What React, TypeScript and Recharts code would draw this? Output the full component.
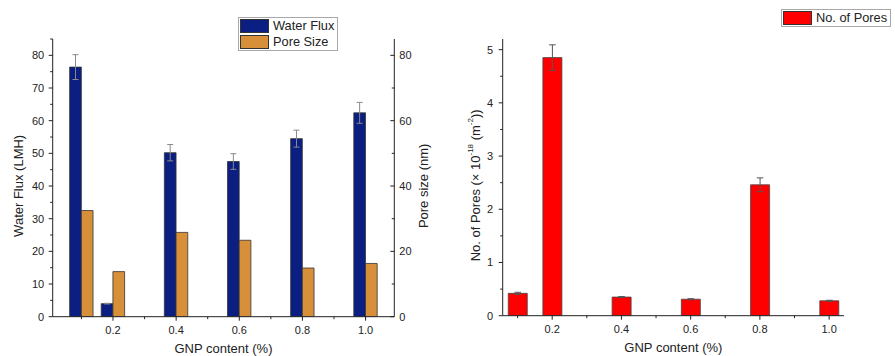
import React from 'react';
import { BarChart, Bar, XAxis, YAxis, ErrorBar, Legend } from 'recharts';

// ---- data ----
const gnpContent = [0.1, 0.2, 0.4, 0.6, 0.8, 1.0];
const waterFlux = [76.4, 4.0, 50.2, 47.5, 54.5, 62.4];
const waterFluxError = [3.8, 0.1, 2.5, 2.4, 2.6, 3.2];
const poreSize = [32.5, 13.8, 25.8, 23.4, 14.9, 16.3];
const numberOfPores = [0.42, 4.85, 0.35, 0.31, 2.46, 0.28];
const numberOfPoresError = [0.02, 0.24, 0.01, 0.01, 0.13, 0.01];

// ---- ticks ----
const xTicks = [0.1, 0.2, 0.3, 0.4, 0.5, 0.6, 0.7, 0.8, 0.9, 1.0];
const xTickLabels = ['0.2', '0.4', '0.6', '0.8', '1.0'];
const fluxTicks = [0, 5, 10, 15, 20, 25, 30, 35, 40, 45, 50, 55, 60, 65, 70, 75, 80, 85];
const fluxTickLabels = ['0', '10', '20', '30', '40', '50', '60', '70', '80'];
const poreSizeTicks = [0, 10, 20, 30, 40, 50, 60, 70, 80];
const poreSizeTickLabels = ['0', '20', '40', '60', '80'];
const poresTicks = [0, 0.5, 1, 1.5, 2, 2.5, 3, 3.5, 4, 4.5, 5];
const poresTickLabels = ['0', '1', '2', '3', '4', '5'];

const leftData = gnpContent.map((g, i) => ({
  gnp: g,
  flux: waterFlux[i],
  fluxErr: waterFluxError[i],
  pore: poreSize[i],
}));
const rightData = gnpContent.map((g, i) => ({
  gnp: g,
  pores: numberOfPores[i],
  poresErr: numberOfPoresError[i],
}));

const FONT = '"Liberation Sans", Arial, sans-serif';
const INK = '#222';
const NAVY = '#0b1f82';
const ORANGE = '#d88f3a';
const RED = '#ff0000';

const fmtX = (v: number) => v.toFixed(1);
const fmtInt = (v: number) => String(v);

const makeTick = (orientation: string, labels: string[], fmt: (v: number) => string, gap: number) =>
  (props: any) => {
    const { x, y, payload } = props;
    const label = fmt(payload.value);
    const major = labels.includes(label);
    const len = major ? 4 : 2.5;
    if (orientation === 'bottom') {
      return (
        <g>
          <line x1={x} x2={x} y1={y} y2={y + len} stroke={INK} strokeWidth={1} />
          {major && (
            <text x={x} y={y + 17.5} textAnchor="middle" fontSize={11} fontFamily={FONT} fill={INK}>
              {label}
            </text>
          )}
        </g>
      );
    }
    if (orientation === 'left') {
      return (
        <g>
          <line x1={x - len} x2={x} y1={y} y2={y} stroke={INK} strokeWidth={1} />
          {major && (
            <text x={x - gap} y={y} dy="0.36em" textAnchor="end" fontSize={11} fontFamily={FONT} fill={INK}>
              {label}
            </text>
          )}
        </g>
      );
    }
    // right axis: ticks point into the plot
    return (
      <g>
        <line x1={x - len} x2={x} y1={y} y2={y} stroke={INK} strokeWidth={1} />
        {major && (
          <text x={x + gap} y={y} dy="0.36em" textAnchor="start" fontSize={11} fontFamily={FONT} fill={INK}>
            {label}
          </text>
        )}
      </g>
    );
  };

const YLabel = (text: React.ReactNode, dx: number) => (props: any) => {
  const vb = props.viewBox || {};
  const cx = vb.x + dx;
  const cy = vb.y + vb.height / 2 + 8;
  return (
    <text
      x={cx}
      y={cy}
      transform={`rotate(-90 ${cx} ${cy})`}
      textAnchor="middle"
      dominantBaseline="central"
      fontSize={13}
      fontFamily={FONT}
      fill={INK}
    >
      {text}
    </text>
  );
};

const XLabel = (text: string) => (props: any) => {
  const vb = props.viewBox || {};
  return (
    <text
      x={vb.x + vb.width / 2}
      y={vb.y + 36.3}
      textAnchor="middle"
      fontSize={13}
      fontFamily={FONT}
      fill={INK}
    >
      {text}
    </text>
  );
};

const LegendBox = ({ items, width }: { items: { name: string; color: string }[]; width: number }) => (
  <div
    style={{
      border: '1px solid #a8a8a8',
      background: '#fff',
      width,
      padding: '0px 0px 0px 1px',
      boxSizing: 'border-box',
      fontFamily: FONT,
      fontSize: 12.8,
      color: INK,
    }}
  >
    {items.map((it) => (
      <div key={it.name} style={{ display: 'flex', alignItems: 'center', height: 16 }}>
        <div
          style={{
            width: 29,
            height: 14,
            background: it.color,
            border: '1px solid #333',
            boxSizing: 'border-box',
            marginRight: 4,
          }}
        />
        <span style={{ lineHeight: '16px', whiteSpace: 'nowrap' }}>{it.name}</span>
      </div>
    ))}
  </div>
);

const pnoresLabel = (
  <>
    <tspan>No. of Pores (× 10</tspan>
    <tspan fontSize={8} dy={-5}>-18</tspan>
    <tspan dy={5}> (m</tspan>
    <tspan fontSize={8} dy={-5}>-2</tspan>
    <tspan dy={5}>))</tspan>
  </>
);

export default function App() {
  return (
    <div style={{ position: 'absolute', left: 0, top: 0, width: 895, height: 356, background: '#fff', overflow: 'hidden' }}>
      <div style={{ position: 'absolute', left: 0, top: 0 }}>
        <BarChart
          width={450}
          height={356}
          data={leftData}
          margin={{ top: 39, right: 0, bottom: 0, left: 0 }}
          barGap={0}
        >
          <XAxis
            dataKey="gnp"
            type="number"
            domain={[0.009, 1.091]}
            ticks={xTicks}
            interval={0}
            allowDataOverflow
            height={39.3}
            tickSize={0}
            tickMargin={0}
            tickLine={false}
            axisLine={{ stroke: INK, strokeWidth: 1 }}
            tick={makeTick('bottom', xTickLabels, fmtX, 0)}
            label={XLabel('GNP content (%)')}
          />
          <YAxis
            yAxisId="flux"
            orientation="left"
            type="number"
            domain={[0, 85]}
            ticks={fluxTicks}
            interval={0}
            allowDataOverflow
            width={52.7}
            tickSize={0}
            tickMargin={0}
            tickLine={false}
            axisLine={{ stroke: INK, strokeWidth: 1 }}
            tick={makeTick('left', fluxTickLabels, fmtInt, 8.5)}
            label={YLabel('Water Flux (LMH)', 19)}
          />
          <YAxis
            yAxisId="pore"
            orientation="right"
            type="number"
            domain={[0, 85]}
            ticks={poreSizeTicks}
            interval={0}
            allowDataOverflow
            width={55.7}
            tickSize={0}
            tickMargin={0}
            tickLine={false}
            axisLine={{ stroke: INK, strokeWidth: 1 }}
            tick={makeTick('right', poreSizeTickLabels, fmtInt, 5)}
            label={YLabel('Pore size (nm)', 29)}
          />
          <Legend
            layout="vertical"
            align="center"
            verticalAlign="middle"
            wrapperStyle={{ left: 238, top: 17, width: 100 }}
            content={() => (
              <LegendBox
                width={100}
                items={[
                  { name: 'Water Flux', color: NAVY },
                  { name: 'Pore Size', color: ORANGE },
                ]}
              />
            )}
          />
          <Bar
            yAxisId="flux"
            dataKey="flux"
            name="Water Flux"
            fill={NAVY}
            stroke="#333"
            strokeWidth={0.8}
            barSize={11.7}
            isAnimationActive={false}
          >
            <ErrorBar dataKey="fluxErr" width={3} stroke="#8a8a8a" strokeWidth={1} direction="y" />
          </Bar>
          <Bar
            yAxisId="pore"
            dataKey="pore"
            name="Pore Size"
            fill={ORANGE}
            stroke="#333"
            strokeWidth={0.8}
            barSize={11.7}
            isAnimationActive={false}
          />
        </BarChart>
      </div>

      <div style={{ position: 'absolute', left: 450, top: 0 }}>
        <BarChart
          width={445}
          height={356}
          data={rightData}
          margin={{ top: 39, right: 51, bottom: 0, left: 0 }}
        >
          <XAxis
            dataKey="gnp"
            type="number"
            domain={[0.057, 1.043]}
            ticks={xTicks}
            interval={0}
            allowDataOverflow
            height={40.3}
            tickSize={0}
            tickMargin={0}
            tickLine={false}
            axisLine={{ stroke: INK, strokeWidth: 1 }}
            tick={makeTick('bottom', xTickLabels, fmtX, 0)}
            label={XLabel('GNP content (%)')}
          />
          <YAxis
            type="number"
            domain={[0, 5.2]}
            ticks={poresTicks}
            interval={0}
            allowDataOverflow
            width={52.7}
            tickSize={0}
            tickMargin={0}
            tickLine={false}
            axisLine={{ stroke: INK, strokeWidth: 1 }}
            tick={makeTick('left', poresTickLabels, fmtInt, 9.5)}
            label={YLabel(pnoresLabel, 25)}
          />
          <Legend
            layout="vertical"
            align="center"
            verticalAlign="middle"
            wrapperStyle={{ left: 331, top: 9, width: 110 }}
            content={() => <LegendBox width={110} items={[{ name: 'No. of Pores', color: RED }]} />}
          />
          <Bar
            dataKey="pores"
            name="No. of Pores"
            fill={RED}
            stroke="#444"
            strokeWidth={0.8}
            barSize={19}
            isAnimationActive={false}
          >
            <ErrorBar dataKey="poresErr" width={3.3} stroke="#555" strokeWidth={1} direction="y" />
          </Bar>
        </BarChart>
      </div>
    </div>
  );
}
